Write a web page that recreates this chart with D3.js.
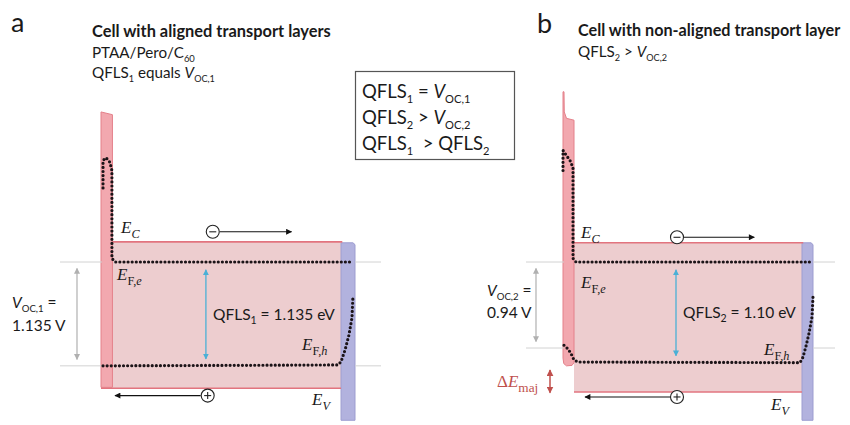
<!DOCTYPE html>
<html><head><meta charset="utf-8">
<script src="https://cdn.jsdelivr.net/npm/d3@7"></script>
<style>body{margin:0;background:#fff}svg{display:block}</style>
</head><body>
<svg id="c" width="850" height="425"></svg>
<script>
// ---------------- data ----------------
// positions are in a.u. along the device (0..100), energies in eV relative to E_F,e
const panelLetters = ["a", "b"];
const titles = ["Cell with aligned transport layers", "Cell with non-aligned transport layer"];
const qfls = [1.135, 1.10];          // quasi-Fermi level splitting (eV)
const voc = [1.135, 0.94];           // open-circuit voltage (V)
const qflsLabels = ["1.135 eV", "1.10 eV"];
const vocLabels = ["1.135 V", "0.94 V"];
// perovskite layer: [x start, x end, E_C, E_V]
const peroA = [4.5, 94.5, 0.22, -1.38];
const peroB = [4.4, 95.6, 0.21, -1.42];
// HTL outlines [x, E]
const htlA = [[0, 1.64], [4.5, 1.61], [4.5, -1.37], [0, -1.37]];
const htlB = [[0, 1.86], [0.4, 1.86], [0.5, 1.64], [1.4, 1.57], [4.4, 1.55], [4.4, -1.10], [3.6, -1.13], [1.4, -1.135], [0.3, -1.11], [0, -1.05]];
// ETL outlines [x, E]
const etlA = [[94.5, 0.21], [99.2, 0.21], [100, 0.19], [100, -1.73], [94.5, -1.73]];
const etlB = [[95.6, 0.21], [99.2, 0.21], [100, 0.19], [100, -1.73], [95.6, -1.73]];
// electron quasi-Fermi level E_F,e [x, E]
const efeA = [[0.8, 0.81], [0.8, 1.11], [2.0, 1.14], [3.5, 1.09], [4.3, 1.0], [4.3, 0.04], [5.5, 0], [98.8, 0]];
const efeB = [[0, 1.0], [0, 1.22], [1.2, 1.17], [2.8, 1.11], [4.0, 1.03], [4.0, 0.04], [5.2, 0], [99.6, 0]];
// hole quasi-Fermi level E_F,h [x, E]
const efhA = [[0.8, -1.135], [93.3, -1.125], [94.5, -1.09], [96.1, -0.96], [97.6, -0.80], [98.8, -0.61], [99.2, -0.37]];
const efhB = [[0.4, -0.91], [2.0, -0.95], [3.2, -1.0], [4.4, -1.07], [6, -1.093], [94.8, -1.10], [96, -1.04], [97.2, -0.92], [98.4, -0.78], [99.6, -0.60], [100, -0.38]];
// carriers: [x circle, E, x arrow end]
const electronA = [44, 0.33, 75];
const electronB = [45.6, 0.27, 76.5];
const holeA = [42, -1.46, 5.5];
const holeB = [45.6, -1.475, 8.8];
const dEmaj = [-1.18, -1.43];
const boxLines = [["QFLS", "1", " = ", "V", "OC,1"], ["QFLS", "2", " > ", "V", "OC,2"], ["QFLS", "1", "  > QFLS", "2"]];

// ---------------- scales ----------------
const y = d3.scaleLinear().domain([0, 1]).range([262, 170.5]);
const xA = d3.scaleLinear().domain([0, 100]).range([101, 355]);
const xB = d3.scaleLinear().domain([0, 100]).range([563, 813]);

const svg = d3.select("#c");
svg.append("rect").attr("width", 850).attr("height", 425).attr("fill", "#fff");

const SANS = "Lato, 'Open Sans', sans-serif";
const SERIF = "'Liberation Serif', 'DejaVu Serif', serif";
const C_PERO = "#edcdcf", C_PERO_LINE = "#e2747f";
const C_HTL = "#f2a8af", C_HTL_LINE = "#e4808a";
const C_ETL = "#b2b2de", C_ETL_LINE = "#9d9dd0";

// arrow markers
const defs = svg.append("defs");
function marker(id, color, w, h) {
  defs.append("marker").attr("id", id).attr("viewBox", "0 0 10 10").attr("refX", 9).attr("refY", 5)
    .attr("markerWidth", w).attr("markerHeight", h).attr("orient", "auto-start-reverse")
    .attr("markerUnits", "userSpaceOnUse")
    .append("path").attr("d", "M0,0L10,5L0,10z").attr("fill", color);
}
marker("mBlack", "#111", 8, 6);
marker("mBlue", "#4bb0d6", 6, 6);
marker("mGray", "#b0b0b0", 6, 6);
marker("mRed", "#c0504d", 7, 7);

// rich text helper
function rich(g, x, yy, parts, fs, opts = {}) {
  const t = g.append("text").attr("x", x).attr("y", yy).attr("font-family", opts.family || SANS)
    .attr("font-size", fs).attr("fill", opts.fill || "#1a1a1a").attr("font-weight", opts.weight || "normal")
    .style("white-space", "pre");
  let shift = 0;
  parts.forEach(p => {
    const ts = t.append("tspan").text(p.t);
    const target = p.sub ? 0.28 * fs : 0;
    if (target !== shift) { ts.attr("dy", target - shift); shift = target; }
    if (p.sub) ts.attr("font-size", fs * (p.scale || opts.subScale || 0.68));
    if (p.it) ts.attr("font-style", "italic");
    if (p.fam) ts.attr("font-family", p.fam);
    if (p.w) ts.attr("font-weight", p.w);
  });
  return t;
}

function drawPanel(i, x, pero, htl, etl, efe, efh, electron, hole) {
  const g = svg.append("g");
  const line = d3.line().x(d => x(d[0])).y(d => y(d[1]));
  const outline = d3.line().x(d => x(d[0])).y(d => y(d[1])).curve(d3.curveLinearClosed);

  // perovskite
  g.append("rect").attr("x", x(pero[0])).attr("y", y(pero[2]))
    .attr("width", x(pero[1]) - x(pero[0])).attr("height", y(pero[3]) - y(pero[2])).attr("fill", C_PERO);
  // ETL
  g.append("path").attr("d", outline(etl)).attr("fill", C_ETL).attr("stroke", C_ETL_LINE).attr("stroke-width", 1);
  // HTL
  g.append("path").attr("d", outline(htl)).attr("fill", C_HTL).attr("stroke", C_HTL_LINE).attr("stroke-width", 1);
  // band edges
  g.append("path").attr("d", line([[pero[0], pero[2]], [pero[1] + 0.5, pero[2]]])).attr("stroke", C_PERO_LINE).attr("stroke-width", 1.6).attr("fill", "none");
  g.append("path").attr("d", line([[i === 0 ? 0 : pero[0], pero[3]], [pero[1], pero[3]]])).attr("stroke", C_PERO_LINE).attr("stroke-width", 1.6).attr("fill", "none");

  // reference lines for Voc
  const v = voc[i];
  const leftX = i === 0 ? 60 : 526, rightEnd = i === 0 ? 381 : 835;
  [0, -v].forEach(e => {
    g.append("line").attr("x1", leftX).attr("x2", x(0) + 1).attr("y1", y(e)).attr("y2", y(e)).attr("stroke", "#d2d2d2").attr("stroke-width", 1);
    g.append("line").attr("x1", x(100)).attr("x2", rightEnd).attr("y1", y(e)).attr("y2", y(e)).attr("stroke", "#d2d2d2").attr("stroke-width", 1);
  });
  const ax = i === 0 ? 77 : 536;
  g.append("line").attr("x1", ax).attr("x2", ax).attr("y1", y(-0.07)).attr("y2", y(-v + 0.07))
    .attr("stroke", "#b0b0b0").attr("stroke-width", 1.2)
    .attr("marker-start", "url(#mGray)").attr("marker-end", "url(#mGray)");

  // quasi-Fermi levels (dotted)
  [efe, efh].forEach(d => {
    g.append("path").attr("d", line(d)).attr("fill", "none").attr("stroke", "#1c1418")
      .attr("stroke-width", 3.2).attr("stroke-linecap", "round").attr("stroke-dasharray", "0 4.1");
  });

  // QFLS arrow
  const bx = x(i === 0 ? 41.3 : 45.2);
  g.append("line").attr("x1", bx).attr("x2", bx).attr("y1", y(-0.085)).attr("y2", y(-qfls[i] + 0.075))
    .attr("stroke", "#4bb0d6").attr("stroke-width", 1.3)
    .attr("marker-start", "url(#mBlue)").attr("marker-end", "url(#mBlue)");

  // carriers
  [[electron, "−"], [hole, "+"]].forEach(([c, s]) => {
    const cx = x(c[0]), cy = y(c[1]);
    g.append("line").attr("x1", cx + (c[2] > c[0] ? 7 : -7)).attr("x2", x(c[2])).attr("y1", cy).attr("y2", cy)
      .attr("stroke", "#111").attr("stroke-width", 1.1).attr("marker-end", "url(#mBlack)");
    g.append("circle").attr("cx", cx).attr("cy", cy).attr("r", 6.5).attr("fill", "#fff").attr("stroke", "#222").attr("stroke-width", 1.1);
    g.append("line").attr("x1", cx - 3.5).attr("x2", cx + 3.5).attr("y1", cy).attr("y2", cy).attr("stroke", "#222").attr("stroke-width", 1.1);
    if (s === "+") g.append("line").attr("x1", cx).attr("x2", cx).attr("y1", cy - 3.5).attr("y2", cy + 3.5).attr("stroke", "#222").attr("stroke-width", 1.1);
  });
  return g;
}

const gA = drawPanel(0, xA, peroA, htlA, etlA, efeA, efhA, electronA, holeA);
const gB = drawPanel(1, xB, peroB, htlB, etlB, efeB, efhB, electronB, holeB);

// band labels (serif italic)
function eLabel(g, x0, y0, sub) {
  const parts = [{ t: "E", it: true, fam: SERIF }].concat(sub.map(s => ({ t: s[0], sub: true, it: s[1], fam: SERIF, scale: 0.72 })));
  rich(g, x0, y0, parts, 17, { family: SERIF });
}
eLabel(gA, 121, 233, [["C", true]]);
eLabel(gA, 117, 280, [["F,", false], ["e", true]]);
eLabel(gA, 302, 350, [["F,", false], ["h", true]]);
eLabel(gA, 312, 405, [["V", true]]);
eLabel(gB, 581, 238, [["C", true]]);
eLabel(gB, 581, 288, [["F,", false], ["e", true]]);
eLabel(gB, 764, 355, [["F,", false], ["h", true]]);
eLabel(gB, 771, 410, [["V", true]]);

// QFLS labels
rich(gA, 213, 320, [{ t: "QFLS" }, { t: "1", sub: true }, { t: " = " + qflsLabels[0] }], 15.5);
rich(gB, 683, 318, [{ t: "QFLS" }, { t: "2", sub: true }, { t: " = " + qflsLabels[1] }], 15.5);
// Voc labels
rich(gA, 12, 308, [{ t: "V", it: true }, { t: "OC,1", sub: true }, { t: " =" }], 15.5, { subScale: 0.62 });
rich(gA, 12, 331, [{ t: vocLabels[0] }], 15.5);
rich(gB, 487, 296, [{ t: "V", it: true }, { t: "OC,2", sub: true }, { t: " =" }], 15.5, { subScale: 0.62 });
rich(gB, 487, 318, [{ t: vocLabels[1] }], 15.5);

// Delta E_maj
rich(gB, 497, 387, [{ t: "Δ", fam: SERIF }, { t: "E", it: true, fam: SERIF }, { t: "maj", sub: true, fam: SERIF, scale: 0.78 }], 17, { fill: "#c0504d", family: SERIF });
gB.append("line").attr("x1", 550).attr("x2", 550).attr("y1", y(dEmaj[0])).attr("y2", y(dEmaj[1]))
  .attr("stroke", "#c0504d").attr("stroke-width", 1.5)
  .attr("marker-start", "url(#mRed)").attr("marker-end", "url(#mRed)");

// panel letters and titles
svg.append("text").attr("x", 11).attr("y", 32).attr("font-family", SANS).attr("font-size", 27).attr("fill", "#1a1a1a").text(panelLetters[0]);
svg.append("text").attr("x", 537).attr("y", 33).attr("font-family", SANS).attr("font-size", 27).attr("fill", "#1a1a1a").text(panelLetters[1]);
rich(svg, 92, 37, [{ t: titles[0] }], 16.4, { weight: "bold" });
rich(svg, 92, 58, [{ t: "PTAA/Pero/C" }, { t: "60", sub: true }], 15.2, { subScale: 0.62 });
rich(svg, 92, 78, [{ t: "QFLS" }, { t: "1", sub: true }, { t: " equals " }, { t: "V", it: true }, { t: "OC,1", sub: true }], 15.2, { subScale: 0.6 });
rich(svg, 578, 36, [{ t: titles[1] }], 16.2, { weight: "bold" });
rich(svg, 578, 57, [{ t: "QFLS" }, { t: "2", sub: true }, { t: " > " }, { t: "V", it: true }, { t: "OC,2", sub: true }], 15.2, { subScale: 0.6 });

// summary box
svg.append("rect").attr("x", 355.5).attr("y", 71.5).attr("width", 159).attr("height", 88)
  .attr("fill", "#fff").attr("stroke", "#555").attr("stroke-width", 1.2);
const boxG = svg.append("g");
boxLines.forEach((L, k) => {
  const yy = 98 + k * 26;
  let parts;
  if (k < 2) parts = [{ t: L[0] }, { t: L[1], sub: true }, { t: L[2] }, { t: L[3], it: true }, { t: L[4], sub: true }];
  else parts = [{ t: L[0] }, { t: L[1], sub: true }, { t: L[2] }, { t: L[3], sub: true }];
  rich(boxG, 362, yy, parts, 18.5, { subScale: 0.6 });
});
</script>
</body></html>
